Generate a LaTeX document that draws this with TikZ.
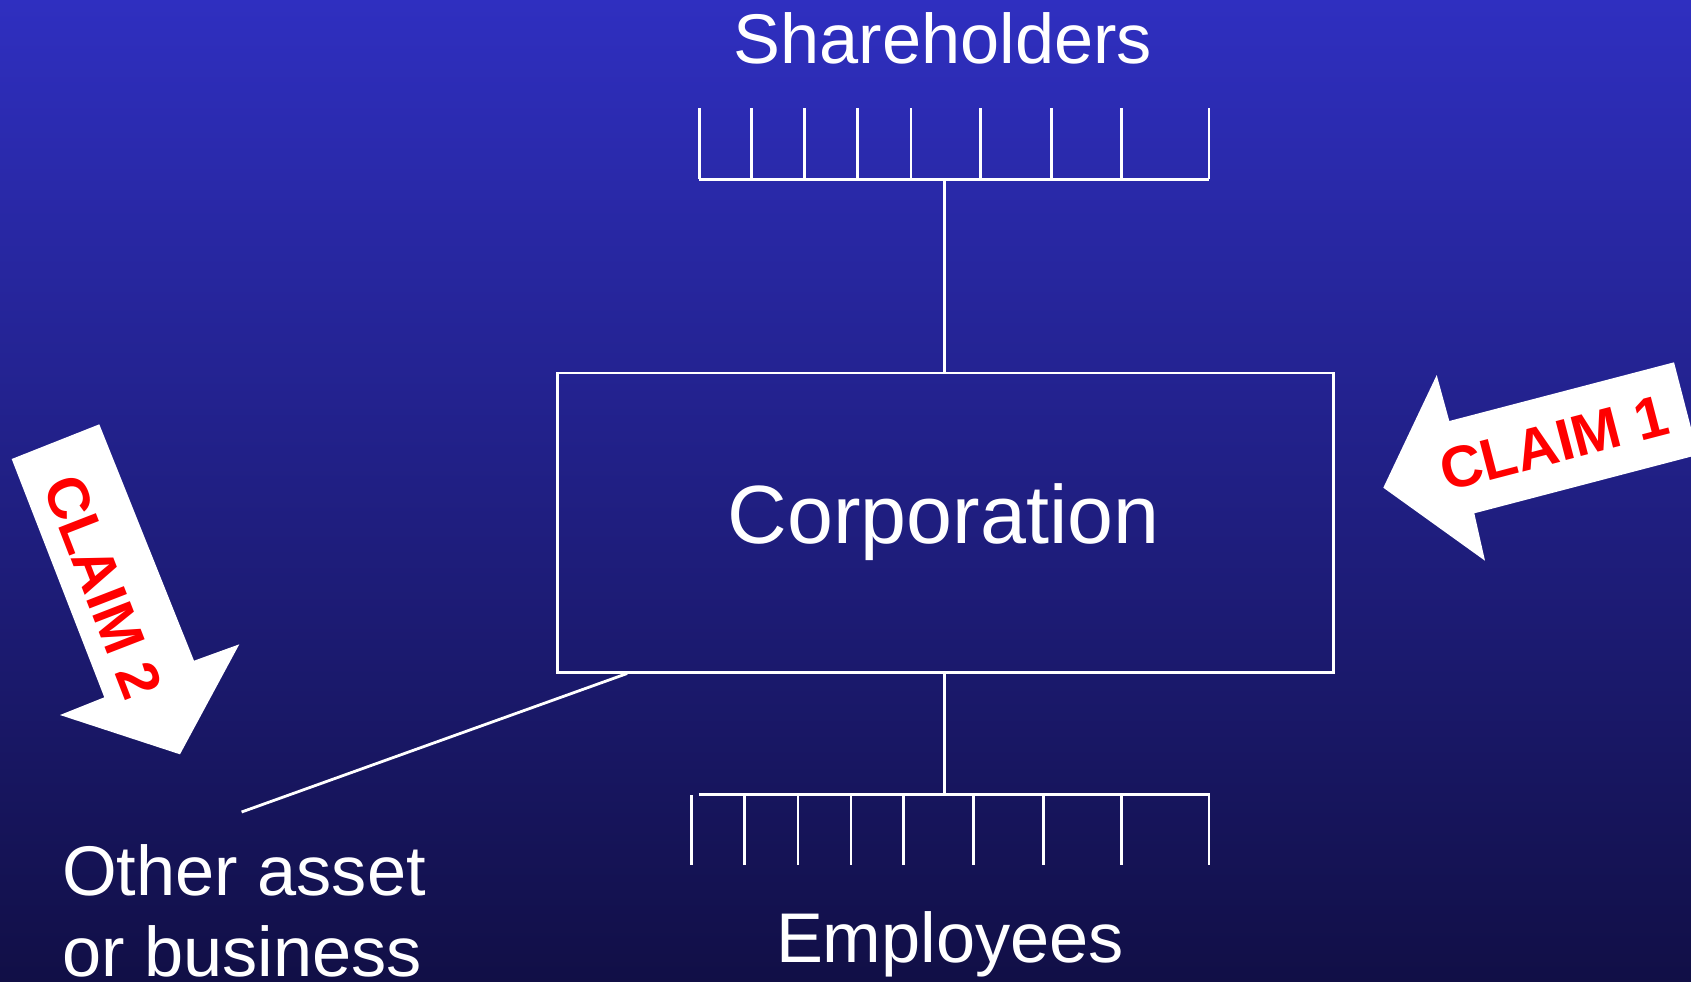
\documentclass[tikz,border=0pt]{standalone}
\usepackage{fontspec}
\setmainfont{Liberation Sans}
\definecolor{bgtop}{RGB}{47,47,192}
\definecolor{bgbot}{RGB}{17,15,70}
\definecolor{claimred}{RGB}{255,0,0}
\tikzset{
  wline/.style={draw=white, line width=0.8pt},
  lbl/.style={text=white, inner sep=0pt, font=\fontsize{20pt}{23pt}\selectfont},
  claimtxt/.style={text=claimred, inner sep=0pt, font=\fontsize{16.6pt}{19pt}\selectfont\bfseries},
  claimarrow/.style={fill=white, draw=none}
}
\begin{document}
\begin{tikzpicture}[x=0.01cm, y=-0.01cm]
\useasboundingbox (0,0) rectangle (1691,981);
\shade[top color=bgtop, bottom color=bgbot] (0cm,0cm) rectangle (16.91cm,-9.81cm);
\begin{scope}
\clip (0,0) rectangle (1691,981);

% texts
\node[lbl, anchor=base] (sh) at (943,63.5) {Shareholders};
\node[lbl, anchor=base] (emp) at (950,962) {Employees};
\node[lbl, anchor=base west] (oa1) at (61.5,895) {Other asset};
\node[lbl, anchor=base west] (oa2) at (61.5,976) {or business};

% corporation box
\node[wline, rectangle, minimum width=7.755cm, minimum height=2.99cm, inner sep=0pt] (corp) at (945.25,522.5) {};
\node[lbl, anchor=base, font=\fontsize{23.5pt}{27pt}\selectfont] (corptext) at (943.5,543) {Corporation};

% top comb
\coordinate (shbar) at (944.8,179.3);
\draw[wline] (699,179.3) coordinate (shL) -- (1209.3,179.3) coordinate (shR);
\foreach \x in {699.3,751.5,804.4,857.3,911,980.3,1051.3,1121.5,1209}
  \draw[wline] (\x,108) -- (\x,179.3);
\draw[wline] (shbar) -- (shbar |- corp.north);

% bottom comb
\coordinate (empbar) at (944.8,794.3);
\draw[wline] (698.9,794.3) coordinate (emL) -- (1209.5,794.3) coordinate (emR);
\foreach \x in {691.5,744.4,797.9,850.9,903.8,973.8,1043.8,1121.5,1209}
  \draw[wline] (\x,795) -- (\x,865);
\draw[wline] (empbar |- corp.south) -- (empbar);

% line to other asset
\coordinate (oaend) at (241.6,812);
\draw[wline] ([xshift=0.712cm]corp.south west) -- (oaend);

% claim 2 arrow
\fill[claimarrow] (11.7,459) -- (99.3,424.3) -- (194,660.7) -- (239.3,644.3) -- (180,754.3) -- (60,715) -- (104.3,697.3) -- cycle;
\node[claimtxt, rotate=-68.8] (c2) at (103,587) {CLAIM 2};

% claim 1 arrow
\fill[claimarrow] (1674,362.3) -- (1698,454.8) -- (1474.3,513.3) -- (1485,560.7) -- (1383.3,487.7) -- (1436.7,375) -- (1449.3,421) -- cycle;
\node[claimtxt, rotate=14.6] (c1) at (1554,443) {CLAIM 1};
\end{scope}
\end{tikzpicture}
\end{document}
